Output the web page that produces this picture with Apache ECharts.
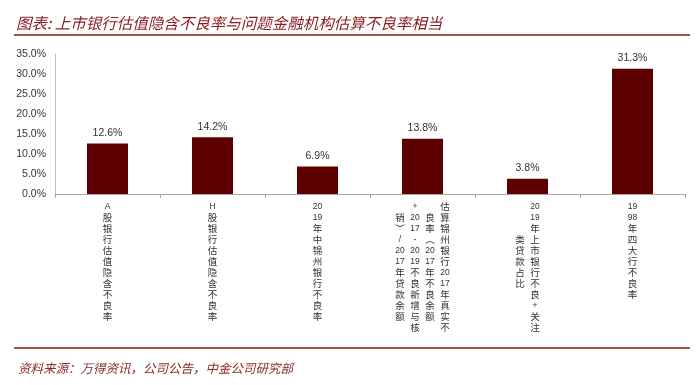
<!DOCTYPE html>
<html>
<head>
<meta charset="utf-8">
<script src="https://cdn.jsdelivr.net/npm/echarts@6/dist/echarts.min.js"></script>
<style>
html,body{margin:0;padding:0;background:#fff;}
#chart{width:700px;height:385px;}
</style>
</head>
<body>
<div id="chart"></div>
<script>
// ---- data ----
const titleText = '图表: 上市银行估值隐含不良率与问题金融机构估算不良率相当';
const sourceText = '资料来源：万得资讯，公司公告，中金公司研究部';
const categories = [
  'A股银行估值隐含不良率',
  'H股银行估值隐含不良率',
  '2019年中锦州银行不良率',
  '估算锦州银行2017年真实不\n良率（2017年不良余额\n+2017-2019不良新增与核\n销）/2017年贷款余额',
  '2019年上市银行不良+关注\n类贷款占比',
  '1998年四大行不良率'
];
const values = [12.6, 14.2, 6.9, 13.8, 3.8, 31.3];
const yTicks = { min: 0, max: 35, interval: 5 };

// ---- helpers: vertical (top-to-bottom) stacked label text ----
const vertMap = { '（': '︵', '）': '︶' };
function tokenize(col) {
  const cells = [];
  let i = 0;
  while (i < col.length) {
    const ch = col[i];
    if (/[0-9]/.test(ch)) {
      let j = i;
      while (j < col.length && /[0-9]/.test(col[j])) j++;
      const run = col.slice(i, j);
      for (let k = 0; k < run.length; k += 2) cells.push({ t: run.slice(k, k + 2), a: true });
      i = j;
    } else if (/[\x00-\x7F]/.test(ch)) {
      cells.push({ t: ch, a: true });
      i++;
    } else {
      cells.push({ t: vertMap[ch] || ch, a: false });
      i++;
    }
  }
  return cells;
}
function verticalLabel(value) {
  const cols = value.split('\n').map(tokenize);
  const maxLen = Math.max.apply(null, cols.map(c => c.length));
  const offs = cols.map(c => Math.floor((maxLen - c.length) / 2));
  const rows = [];
  for (let r = 0; r < maxLen; r++) {
    let line = '';
    for (let k = cols.length - 1; k >= 0; k--) {
      const idx = r - offs[k];
      const cell = cols[k][idx];
      if (cell) line += '{' + (cell.a ? 'a' : 'c') + '|' + cell.t + '}';
      else line += '{c|\u3000}';
    }
    rows.push(line);
  }
  return rows.join('\n');
}

const chart = echarts.init(document.getElementById('chart'), null, { renderer: 'canvas' });
const cjk = '"Noto Sans CJK SC", "Noto Sans", sans-serif';
const red = '#8a1c1c';

chart.setOption({
  animation: false,
  backgroundColor: '#ffffff',
  title: [
    {
      text: titleText, left: 11, top: 10,
      textStyle: { fontFamily: cjk, fontSize: 15.5, fontWeight: 'normal', fontStyle: 'italic', color: red }
    },
    {
      text: sourceText, left: 13, top: 357,
      textStyle: { fontFamily: cjk, fontSize: 12.5, fontWeight: 'normal', fontStyle: 'italic', color: '#8a2a2a' }
    }
  ],
  graphic: [
    { type: 'line', shape: { x1: 14, y1: 35, x2: 690, y2: 35 }, style: { stroke: '#7a1a1a', lineWidth: 1.5 } },
    { type: 'line', shape: { x1: 14, y1: 348, x2: 690, y2: 348 }, style: { stroke: '#7a1a1a', lineWidth: 1.5 } }
  ],
  grid: { left: 55, right: 15, top: 54, bottom: 191, containLabel: false },
  xAxis: {
    type: 'category',
    data: categories,
    boundaryGap: true,
    axisLine: { show: true, lineStyle: { color: '#a6a6a6', width: 1 } },
    axisTick: { show: true, length: 4, lineStyle: { color: '#a6a6a6' } },
    axisLabel: {
      interval: 0,
      margin: 7,
      lineHeight: 11,
      formatter: verticalLabel,
      rich: {
        c: { fontFamily: cjk, fontSize: 9.5, color: '#333', width: 15, align: 'center', lineHeight: 11 },
        a: { fontFamily: '"Liberation Sans", sans-serif', fontSize: 8.5, color: '#333', width: 15, align: 'center', lineHeight: 11 }
      }
    }
  },
  yAxis: {
    type: 'value',
    min: yTicks.min, max: yTicks.max, interval: yTicks.interval,
    axisLine: { show: true, lineStyle: { color: '#bfbfbf', width: 1 } },
    axisTick: { show: false },
    splitLine: { show: false },
    axisLabel: {
      margin: 9,
      fontFamily: '"Liberation Sans", sans-serif',
      fontSize: 10.5,
      color: '#333',
      formatter: v => v.toFixed(1) + '%'
    }
  },
  series: [{
    type: 'bar',
    data: values,
    barWidth: 41,
    itemStyle: { color: '#5c0000' },
    label: {
      show: true, position: 'top', distance: 5,
      fontFamily: '"Liberation Sans", sans-serif', fontSize: 10.5, color: '#333',
      formatter: p => p.value.toFixed(1) + '%'
    }
  }]
});
</script>
</body>
</html>
